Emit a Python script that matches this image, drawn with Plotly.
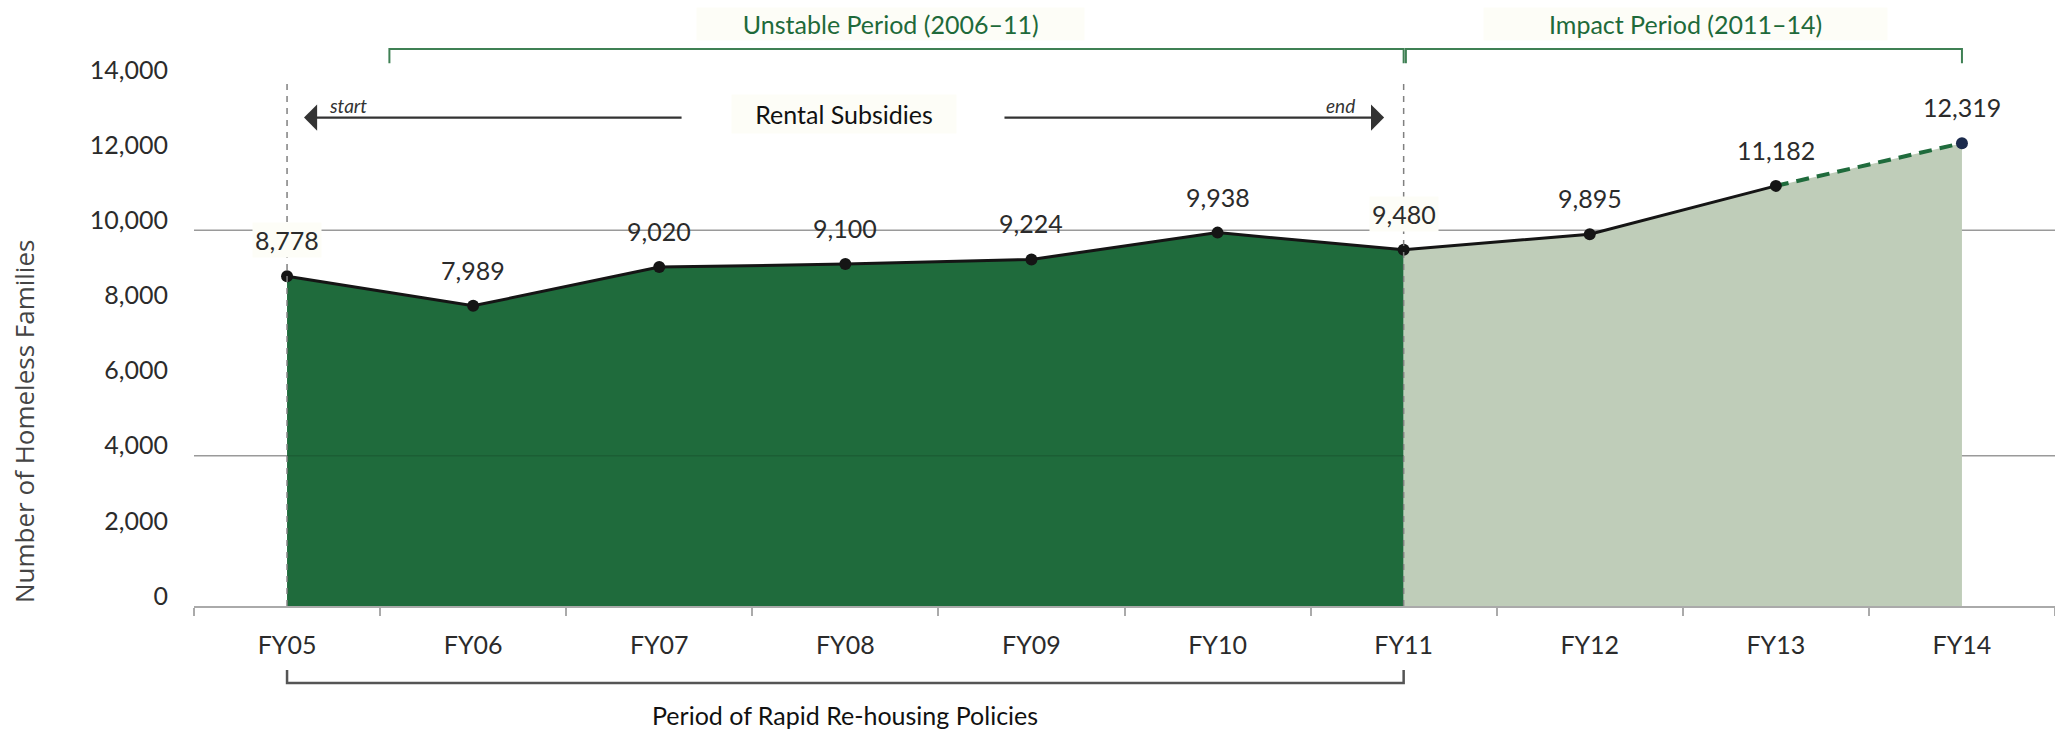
import plotly.graph_objects as go

# ---------------- data ----------------
categories = ["FY05", "FY06", "FY07", "FY08", "FY09", "FY10", "FY11", "FY12", "FY13", "FY14"]
families = [8778, 7989, 9020, 9100, 9224, 9938, 9480, 9895, 11182, 12319]
y_ticks = [0, 2000, 4000, 6000, 8000, 10000, 12000, 14000]
grid_values = [4000, 10000]
policy_start = "FY05"
policy_end = "FY11"
projected_from = "FY13"

# ---------------- style ----------------
DARK = "#1f6b3c"
LIGHT = "#bfcdb9"
GREEN_TXT = "#1e6a3a"
BRACKET_GREEN = "#3f8054"
TEXT = "#2b2b2b"
FONT = "Lato, 'Open Sans', sans-serif"
PALE = "#fdfdf7"

n = len(categories)
i_end = categories.index(policy_end)
i_proj = categories.index(projected_from)


def xp(i):
    """category index -> paper x"""
    return (i + 0.5) / n


fig = go.Figure()

# filled areas
fig.add_trace(go.Scatter(x=categories[: i_end + 1], y=families[: i_end + 1], mode="none",
                         fill="tozeroy", fillcolor=DARK, hoverinfo="skip", showlegend=False))
fig.add_trace(go.Scatter(x=categories[i_end:], y=families[i_end:], mode="none",
                         fill="tozeroy", fillcolor=LIGHT, hoverinfo="skip", showlegend=False))
# lines
fig.add_trace(go.Scatter(x=categories[: i_proj + 1], y=families[: i_proj + 1], mode="lines",
                         line=dict(color="#151515", width=3), showlegend=False))
fig.add_trace(go.Scatter(x=categories[i_proj:], y=families[i_proj:], mode="lines",
                         line=dict(color=DARK, width=4, dash="13px,8px"), showlegend=False))
# markers
marker_colors = ["#151515"] * (n - 1) + ["#1b2a4c"]
fig.add_trace(go.Scatter(x=categories, y=families, mode="markers",
                         marker=dict(size=12, color=marker_colors), showlegend=False))

shapes = []
for g in grid_values:
    shapes.append(dict(type="line", xref="paper", yref="y", x0=0, x1=1, y0=g, y1=g,
                       line=dict(color="#9a9a9a", width=1.5), layer="below"))
# subtle grid line visible over the dark fill
shapes.append(dict(type="line", xref="x", yref="y", x0=policy_start, x1=policy_end,
                   y0=grid_values[0], y1=grid_values[0],
                   line=dict(color="rgba(0,0,0,0.12)", width=1.5), layer="above"))
# dashed vertical markers
for c in (policy_start, policy_end):
    shapes.append(dict(type="line", xref="x", yref="y", x0=c, x1=c, y0=0, y1=y_ticks[-1],
                       line=dict(color="#808080", width=1.5, dash="6px,6px"), layer="above"))

# top brackets (paper coords)
yl, yt = 1.059, 1.032
i_unstable_start = 0.55
shapes.append(dict(type="path", xref="paper", yref="paper",
                   path=f"M {xp(i_unstable_start)},{yt} L {xp(i_unstable_start)},{yl} L {xp(i_end)},{yl} L {xp(i_end)},{yt}",
                   line=dict(color=BRACKET_GREEN, width=2)))
shapes.append(dict(type="path", xref="paper", yref="paper",
                   path=f"M {xp(i_end)+0.0012},{yt} L {xp(i_end)+0.0012},{yl} L {xp(n-1)},{yl} L {xp(n-1)},{yt}",
                   line=dict(color=BRACKET_GREEN, width=2)))
# bottom bracket
bl, bt = -0.1464, -0.1217
shapes.append(dict(type="path", xref="paper", yref="paper",
                   path=f"M {xp(0)},{bt} L {xp(0)},{bl} L {xp(i_end)},{bl} L {xp(i_end)},{bt}",
                   line=dict(color="#555555", width=2.5)))

annotations = []
# value labels
for c, v in zip(categories, families):
    boxed = c in (policy_start, policy_end)
    annotations.append(dict(x=c, y=v, text=f"{v:,}", showarrow=False, yshift=36,
                            xanchor="center", yanchor="middle",
                            font=dict(family=FONT, size=25, color=TEXT),
                            bgcolor=PALE if boxed else "rgba(0,0,0,0)", borderpad=2))

# period titles
annotations.append(dict(xref="paper", yref="paper", x=0.3745, y=1.1065, xanchor="center", yanchor="middle",
                        text="&nbsp;&nbsp;&nbsp;&nbsp;&nbsp;&nbsp;&nbsp;Unstable Period (2006–11)&nbsp;&nbsp;&nbsp;&nbsp;&nbsp;&nbsp;&nbsp;",
                        showarrow=False, font=dict(family=FONT, size=25, color=GREEN_TXT),
                        bgcolor=PALE, borderpad=1))
annotations.append(dict(xref="paper", yref="paper", x=0.8017, y=1.1065, xanchor="center", yanchor="middle",
                        text="&nbsp;&nbsp;&nbsp;&nbsp;&nbsp;&nbsp;&nbsp;&nbsp;&nbsp;&nbsp;Impact Period (2011–14)&nbsp;&nbsp;&nbsp;&nbsp;&nbsp;&nbsp;&nbsp;&nbsp;&nbsp;&nbsp;",
                        showarrow=False, font=dict(family=FONT, size=25, color=GREEN_TXT),
                        bgcolor=PALE, borderpad=1))

# Rental subsidies arrows
ARROW_Y = 13000
annotations.append(dict(x=0.091, y=ARROW_Y, ax=2.128, ay=ARROW_Y, xref="x", yref="y",
                        axref="x", ayref="y", text="", showarrow=True, arrowhead=1,
                        arrowsize=1.9, arrowwidth=2.3, arrowcolor="#333333", standoff=0))
annotations.append(dict(x=5.895, y=ARROW_Y, ax=3.847, ay=ARROW_Y, xref="x", yref="y",
                        axref="x", ayref="y", text="", showarrow=True, arrowhead=1,
                        arrowsize=1.9, arrowwidth=2.3, arrowcolor="#333333", standoff=0))
annotations.append(dict(x=2.993, y=13100, xref="x", yref="y", showarrow=False,
                        xanchor="center", yanchor="middle",
                        text="&nbsp;&nbsp;&nbsp;Rental Subsidies&nbsp;&nbsp;&nbsp;",
                        font=dict(family=FONT, size=25, color="#111111"), bgcolor=PALE, borderpad=4))
annotations.append(dict(x=0.328, y=13330, xref="x", yref="y", showarrow=False,
                        xanchor="center", yanchor="middle",
                        text="<i>start</i>", font=dict(family=FONT, size=19, color="#333333")))
annotations.append(dict(x=5.658, y=13330, xref="x", yref="y", showarrow=False,
                        xanchor="center", yanchor="middle",
                        text="<i>end</i>", font=dict(family=FONT, size=19, color="#333333")))

# bottom label
annotations.append(dict(xref="paper", yref="paper", x=xp(i_end / 2), y=-0.2072,
                        xanchor="center", yanchor="middle",
                        text="Period of Rapid Re-housing Policies", showarrow=False,
                        font=dict(family=FONT, size=25, color="#111111")))
# y axis title
annotations.append(dict(xref="paper", yref="paper", x=-0.0913, y=0.35, textangle=-90,
                        xanchor="center", yanchor="middle",
                        text="Number of Homeless Families", showarrow=False,
                        font=dict(family="'Open Sans', sans-serif", size=26, color="#444444")))

fig.update_layout(
    width=2055, height=733,
    margin=dict(l=194, r=0, t=80, b=127),
    paper_bgcolor="white", plot_bgcolor="white",
    shapes=shapes, annotations=annotations,
    showlegend=False,
    font=dict(family=FONT, size=25, color=TEXT),
)
fig.update_xaxes(type="category", range=[-0.5, n - 0.5], showgrid=False, zeroline=False,
                 showline=True, linecolor="#aaaaaa", linewidth=2,
                 ticks="outside", tickson="boundaries", ticklen=8, tickcolor="#aaaaaa", tickwidth=1.5,
                 ticklabelstandoff=16,
                 tickfont=dict(family=FONT, size=25, color=TEXT))
fig.update_yaxes(range=[0, y_ticks[-1]], tickvals=y_ticks, tickformat=",", showgrid=False,
                 zeroline=False, showline=False, ticks="",
                 ticklabelposition="outside", ticklabelstandoff=25, ticklabelshift=-10,
                 tickfont=dict(family=FONT, size=25, color=TEXT))

fig.write_html("out.html", config={"displayModeBar": False},
               post_script="document.body.style.margin='0';")
